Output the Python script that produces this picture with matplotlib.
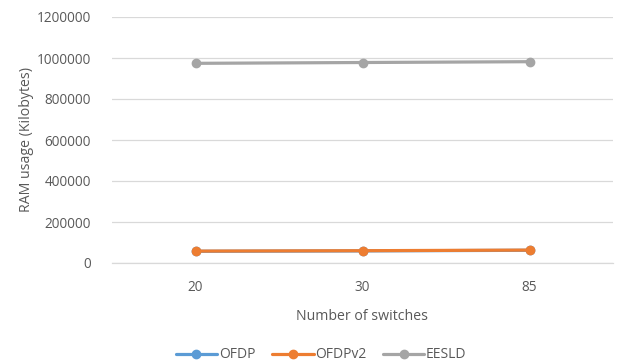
import matplotlib
matplotlib.use("Agg")
import matplotlib.pyplot as plt

plt.rcParams['font.family'] = ['Open Sans', 'DejaVu Sans']

categories = ["20", "30", "85"]
ofdp = [57000, 59000, 62000]
ofdpv2 = [58000, 60000, 63000]
eesld = [974000, 978000, 982000]

series = [("OFDP", ofdp, "#5b9bd5"), ("OFDPv2", ofdpv2, "#ed7d31"), ("EESLD", eesld, "#a5a5a5")]
text_color = "#595959"

fig = plt.figure(figsize=(6.18, 3.63), dpi=100)
ax = fig.add_axes([112 / 618, 100 / 363, 501 / 618, 246 / 363])

x = list(range(len(categories)))
for name, vals, color in series:
    ax.plot(x, vals, color=color, lw=2.3, marker="o", markersize=6, label=name,
            solid_capstyle="round", zorder=3)

ax.set_xlim(-0.5, len(categories) - 0.5)
ax.set_ylim(0, 1200000)
ax.set_yticks(range(0, 1200001, 200000))
ax.set_yticklabels([str(v) for v in range(0, 1200001, 200000)])
ax.set_xticks(x)
ax.set_xticklabels(categories)
ax.grid(axis="y", color="#d9d9d9", lw=0.9)
ax.set_axisbelow(True)
for s in ["top", "right", "left"]:
    ax.spines[s].set_visible(False)
ax.spines["bottom"].set_color("#d9d9d9")
ax.spines["bottom"].set_linewidth(0.9)
ax.tick_params(axis="both", length=0, colors=text_color, labelsize=9.8)
ax.tick_params(axis="x", pad=12)
ax.tick_params(axis="y", pad=15)

ax.set_xlabel("Number of switches", color=text_color, fontsize=10.2, labelpad=10)
ax.set_ylabel("RAM usage (Kilobytes)", color=text_color, fontsize=10.2, labelpad=2)

leg = fig.legend(loc="center", bbox_to_anchor=(321 / 618, 1 - 355 / 363), ncol=3,
                 frameon=False, fontsize=10, handlelength=3.0, columnspacing=1.2,
                 handletextpad=0.1, borderaxespad=0)
for t in leg.get_texts():
    t.set_color(text_color)

fig.savefig("out.png", dpi=100)
